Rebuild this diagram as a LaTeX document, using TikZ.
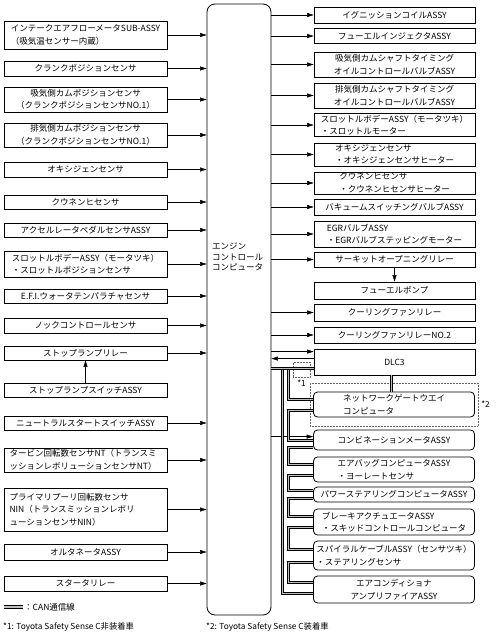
\documentclass[tikz,border=0pt]{standalone}
\usepackage{fontspec}
\setmainfont{Noto Sans CJK JP}
\usetikzlibrary{arrows.meta,positioning,calc,fit}
\begin{document}
\begin{tikzpicture}[x=1pt,y=-1pt,>={Triangle[length=6.5pt,width=4pt]},
  every node/.style={font=\fontsize{8.5}{12.5}\selectfont,inner sep=1pt},
  lbox/.style={draw,line width=0.8pt,minimum width=163pt,minimum height=15pt,align=center},
  rbox/.style={lbox,minimum width=161pt},
  cbox/.style={rbox,rounded corners=4pt},
  arr/.style={->,line width=0.5pt},
  can/.style={draw=black,line width=1pt,double=gray!50,double distance=1.3pt},
  opt/.style={draw=black!60,densely dotted,line width=0.5pt},
  note/.style={font=\fontsize{8.3}{10}\selectfont}]
\useasboundingbox (0,0) rectangle (496,636);
\node[lbox,minimum height=28pt,align=left] (afm) at (85.5,35) {インテークエアフローメータSUB-ASSY\\（吸気温センサー内蔵）};
\node[lbox] (crank) at (85.5,68.5) {クランクポジションセンサ};
\node[lbox,minimum height=25pt] (camin) at (85.5,99.5) {吸気側カムポジションセンサ\\（クランクポジションセンサNO.1）};
\node[lbox,minimum height=24pt] (camex) at (85.5,135) {排気側カムポジションセンサ\\（クランクポジションセンサNO.1）};
\node[lbox] (o2) at (85.5,169.5) {オキシジェンセンサ};
\node[lbox,minimum height=14pt] (af) at (85.5,202) {クウネンヒセンサ};
\node[lbox,minimum height=14pt] (accel) at (85.5,230) {アクセルレータペダルセンサASSY};
\node[lbox,minimum height=26pt,align=left] (thr) at (85.5,264) {スロットルボデーASSY（モータツキ）\\・スロットルポジションセンサ};
\node[lbox,minimum height=14pt] (efi) at (85.5,296) {E.F.I.ウォータテンパラチャセンサ};
\node[lbox] (knock) at (85.5,325.5) {ノックコントロールセンサ};
\node[lbox,minimum height=14pt] (stoprly) at (85.5,353) {ストップランプリレー};
\node[lbox,minimum height=14pt] (stopsw) at (85.5,390) {ストップランプスイッチASSY};
\node[lbox,minimum height=14pt] (neutral) at (85.5,423) {ニュートラルスタートスイッチASSY};
\node[lbox,minimum height=24pt,text width=152pt,align=left] (turbine) at (85.5,460) {タービン回転数センサNT（トランスミ\\ッションレボリューションセンサNT）};
\node[lbox,minimum height=43pt,text width=152pt,align=left] (primary) at (85.5,509.5) {プライマリプーリ回転数センサ\\NIN（トランスミッションレボリ\\ューションセンサNIN）};
\node[lbox,minimum height=16pt] (alt) at (85.5,552) {オルタネータASSY};
\node[lbox] (starter) at (85.5,583.5) {スタータリレー};
\node[draw,line width=0.8pt,rounded corners=8pt,minimum width=64pt,minimum height=611pt] (ecu) at (239,309.5) {};
\node[anchor=west,align=left,font=\fontsize{8.5}{10.5}\selectfont] (ecutxt) at (211,257) {エンジン\\コントロール\\コンピュータ};
\node[rbox,minimum height=16pt] (ign) at (394.5,15) {イグニッションコイルASSY};
\node[rbox] (inj) at (394.5,36) {フューエルインジェクタASSY};
\node[rbox,minimum height=25pt] (ocvin) at (394.5,64.5) {吸気側カムシャフトタイミング\\オイルコントロールバルブASSY};
\node[rbox,minimum height=25pt] (ocvex) at (394.5,95.5) {排気側カムシャフトタイミング\\オイルコントロールバルブASSY};
\node[rbox,minimum height=22pt,align=left] (thrm) at (394.5,125) {スロットルボデーASSY（モータツキ）\\・スロットルモーター};
\node[rbox,minimum height=23pt,align=left] (o2h) at (394.5,154.5) {オキシジェンセンサ\\・オキシジェンセンサヒーター};
\node[rbox,minimum height=22pt,align=left] (afh) at (394.5,183) {クウネンヒセンサ\\・クウネンヒセンサヒーター};
\node[rbox,minimum height=16pt] (vsv) at (394.5,207) {バキュームスイッチングバルブASSY};
\node[rbox,minimum height=26pt,align=left] (egr) at (394.5,234) {EGRバルブASSY\\・EGRバルブステッピングモーター};
\node[rbox] (cor) at (394.5,259.5) {サーキットオープニングリレー};
\node[rbox,minimum height=17pt] (fp) at (394.5,290.5) {フューエルポンプ};
\node[rbox,minimum height=17pt] (cfr) at (394.5,312.5) {クーリングファンリレー};
\node[rbox,minimum height=16pt] (cfr2) at (394.5,335) {クーリングファンリレーNO.2};
\node[rbox,minimum height=26pt] (dlc) at (394.5,362) {DLC3};
\node[cbox,minimum height=25pt,align=left] (gw) at (394,404.5) {ネットワークゲートウエイ\\コンピュータ};
\node[cbox,minimum height=20pt] (meter) at (394,440) {コンビネーションメータASSY};
\node[cbox,minimum height=25pt,align=left] (airbag) at (394,469.5) {エアバッグコンピュータASSY\\・ヨーレートセンサ};
\node[cbox,minimum height=15pt] (ps) at (394,494.5) {パワーステアリングコンピュータASSY};
\node[cbox,minimum height=26pt,align=left] (brake) at (394,522) {ブレーキアクチュエータASSY\\・スキッドコントロールコンピュータ};
\node[cbox,minimum height=29pt,align=left] (spiral) at (394,555.5) {スパイラルケーブルASSY（センサツキ）\\・ステアリングセンサ};
\node[cbox,minimum height=27pt] (ac) at (394,589.5) {エアコンディショナ\\アンプリファイアASSY};
\node[opt,fit=(gw),inner xsep=3pt,inner ysep=8.5pt] (gwopt) {};
\node[note,right=2pt of gwopt] (mark2) {*2};
\node[opt,minimum width=17pt,minimum height=15pt,inner sep=0pt] (opt1) at (301.5,369.5) {};
\node[note,below=1pt of opt1] (mark1) {*1};
\foreach \n in {afm,crank,camin,camex,o2,af,accel,thr,efi,knock,stoprly,neutral,turbine,primary,alt,starter}
  {\draw[arr] (\n.east) -- (\n.east -| ecu.west);}
\draw[arr] (stopsw) -- (stoprly);
\foreach \n in {ign,inj,ocvin,ocvex,thrm,o2h,afh,vsv,egr,cor,cfr,cfr2}
  {\draw[arr] (\n.west -| ecu.east) -- (\n.west);}
\draw[arr] (cor) -- (fp);
\coordinate (dlcA) at ([yshift=-3pt]dlc.north west);
\coordinate (dlcB) at ([yshift=-10pt]dlc.north west);
\coordinate (dlcC) at ([yshift=7pt]dlc.south west);
\coordinate (dlcD) at ([xshift=-3pt]dlc.south);
\coordinate (meterA) at ([yshift=-7pt]meter.north west);
\draw[arr] (dlcA -| ecu.east) -- (dlcA);
\draw[arr] (dlcB) -- (dlcB -| ecu.east);
\draw[arr] (meterA -| ecu.east) -- (meterA);
\foreach \n/\i/\o in {gw/8/7,meter/11/3,airbag/8/7,ps/4/4,brake/8/8,spiral/9/8,ac/7/10}
  {\path (\n.north west) ++(0,\i) coordinate (in\n) (\n.south west) ++(0,-\o) coordinate (out\n);}
\coordinate (canO) at ($(dlcC -| ecu.east)+(11,0)$);
\coordinate (canI) at ($(dlcC -| ecu.east)+(17,0)$);
\draw[can] (canO) |- (outac);
\draw[can] (canI) |- (ingw);
\foreach \p/\q in {gw/meter,meter/airbag,airbag/ps,ps/brake,brake/spiral,spiral/ac}
  {\draw[can] (out\p) -| (canI |- in\q) -- (in\q);}
\draw[can] (dlcC -| ecu.east) -- (dlcC);
\draw[can] (dlcD) -- (dlcD |- gw.north);
\coordinate (legA) at (4,607);
\coordinate (legB) at (23,607);
\draw[can,line width=1.3pt,double distance=1.6pt] (legA) -- (legB);
\node[anchor=west] (legtxt) at (legB) {：CAN通信線};
\node[note,anchor=west] (note1) at (2,627) {*1: Toyota Safety Sense C非装着車};
\node[note,anchor=west] (note2) at (205,627) {*2: Toyota Safety Sense C装着車};
\end{tikzpicture}
\end{document}
